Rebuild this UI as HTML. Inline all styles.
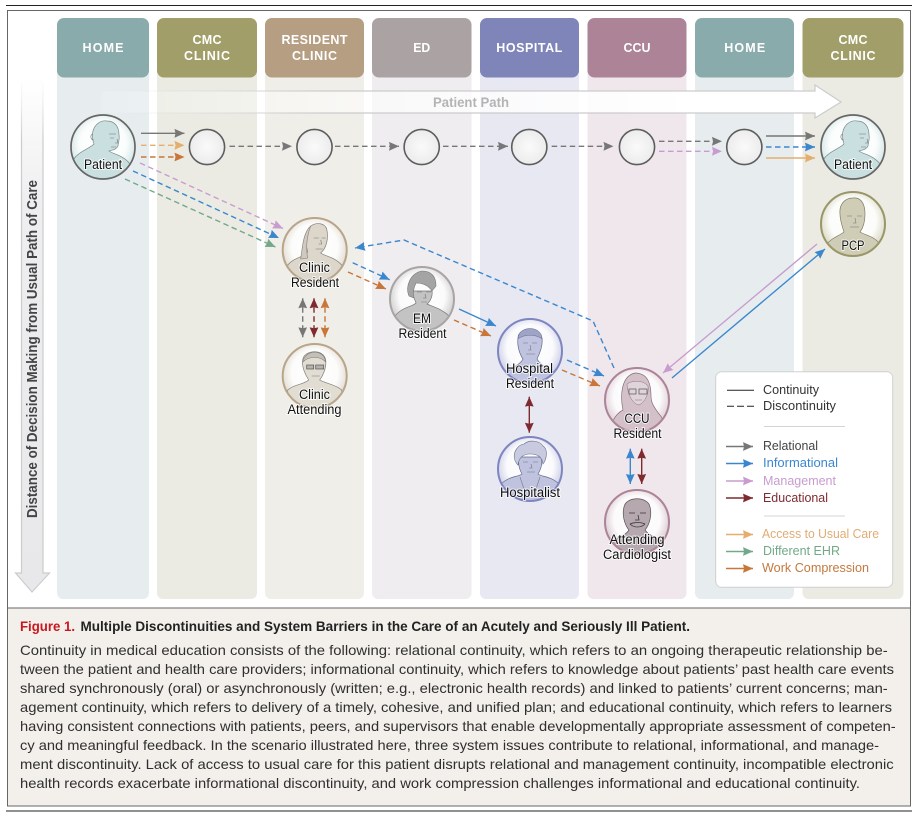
<!DOCTYPE html>
<html><head><meta charset="utf-8"><style>
html,body{margin:0;padding:0;background:#fff;width:915px;height:818px;overflow:hidden}
svg{display:block}
text{font-family:"Liberation Sans",sans-serif}
.h{fill:#fff;font-weight:bold;font-size:12.5px;text-anchor:middle}
.l{fill:#111;font-size:13.5px;text-anchor:middle;stroke:#fff;stroke-opacity:.75;stroke-width:2px;paint-order:stroke}
.c{fill:#2f2f2f;font-size:14px}
.k{font-size:13px}
.a{fill:none;stroke-width:1.4}
.d{stroke-dasharray:5.5 3.5}
.o{fill:none;stroke:#777;stroke-width:.6}
</style></head><body>
<svg width="915" height="818" viewBox="0 0 915 818" xmlns="http://www.w3.org/2000/svg">
<defs>
<clipPath id="c"><circle r="31.5"/></clipPath>
<radialGradient id="w" cx=".5" cy=".45" r=".5"><stop offset="0" stop-color="#fff"/><stop offset=".72" stop-color="#fff" stop-opacity=".92"/><stop offset="1" stop-color="#fff" stop-opacity=".25"/></radialGradient>
<radialGradient id="s"><stop offset="0" stop-color="#fafafa"/><stop offset="1" stop-color="#ececec"/></radialGradient>
<linearGradient id="pp" x1="0" x2="1" y1="0" y2="0"><stop offset="0" stop-color="#fff" stop-opacity=".1"/><stop offset=".45" stop-color="#fff" stop-opacity=".75"/><stop offset=".8" stop-color="#fff"/></linearGradient>
<linearGradient id="pe" x1="0" x2="1" y1="0" y2="0"><stop offset="0" stop-color="#ddd" stop-opacity="0"/><stop offset=".3" stop-color="#ccc"/></linearGradient>
<linearGradient id="vf" x1="0" x2="0" y1="0" y2="1"><stop offset="0" stop-color="#fff"/><stop offset=".25" stop-color="#eeeef0"/><stop offset="1" stop-color="#e8e8ea"/></linearGradient>
<linearGradient id="ve" x1="0" x2="0" y1="0" y2="1"><stop offset="0" stop-color="#ddd" stop-opacity="0"/><stop offset=".12" stop-color="#ccc"/></linearGradient>
<marker id="mg" markerUnits="userSpaceOnUse" markerWidth="11" markerHeight="11" refX="10" refY="5" orient="auto-start-reverse"><path d="M0,.6 L10,5 L0,9.4 L1,5Z" fill="#777"/></marker>
<marker id="mt" markerUnits="userSpaceOnUse" markerWidth="11" markerHeight="11" refX="10" refY="5" orient="auto-start-reverse"><path d="M0,.6 L10,5 L0,9.4 L1,5Z" fill="#e4ae6e"/></marker>
<marker id="mo" markerUnits="userSpaceOnUse" markerWidth="11" markerHeight="11" refX="10" refY="5" orient="auto-start-reverse"><path d="M0,.6 L10,5 L0,9.4 L1,5Z" fill="#c8763a"/></marker>
<marker id="mb" markerUnits="userSpaceOnUse" markerWidth="11" markerHeight="11" refX="10" refY="5" orient="auto-start-reverse"><path d="M0,.6 L10,5 L0,9.4 L1,5Z" fill="#3b87cf"/></marker>
<marker id="mp" markerUnits="userSpaceOnUse" markerWidth="11" markerHeight="11" refX="10" refY="5" orient="auto-start-reverse"><path d="M0,.6 L10,5 L0,9.4 L1,5Z" fill="#c89ccf"/></marker>
<marker id="mn" markerUnits="userSpaceOnUse" markerWidth="11" markerHeight="11" refX="10" refY="5" orient="auto-start-reverse"><path d="M0,.6 L10,5 L0,9.4 L1,5Z" fill="#73a98a"/></marker>
<marker id="mr" markerUnits="userSpaceOnUse" markerWidth="11" markerHeight="11" refX="10" refY="5" orient="auto-start-reverse"><path d="M0,.6 L10,5 L0,9.4 L1,5Z" fill="#7f2a2f"/></marker>
</defs>

<rect width="915" height="818" fill="#fff"/>
<line x1="6" x2="912" y1="5.5" y2="5.5" stroke="#222" stroke-width="1"/>
<line x1="6" x2="912" y1="811" y2="811" stroke="#222" stroke-width="1"/>
<rect x="7.5" y="608" width="903" height="198" fill="#f3f0ec"/>
<rect x="7.5" y="10.5" width="903" height="795.5" fill="none" stroke="#666" stroke-width="1"/>
<line x1="7.5" x2="910.5" y1="608" y2="608" stroke="#666" stroke-width="1"/>

<!-- columns -->
<rect x="57" y="30" width="92" height="569" rx="6" fill="#e7edef"/>
<rect x="157" y="30" width="100" height="569" rx="6" fill="#ebebe3"/>
<rect x="265" y="30" width="99" height="569" rx="6" fill="#f0eee8"/>
<rect x="372" y="30" width="99.5" height="569" rx="6" fill="#efedef"/>
<rect x="480" y="30" width="99" height="569" rx="6" fill="#e7e8f1"/>
<rect x="587.5" y="30" width="99" height="569" rx="6" fill="#f0e7ec"/>
<rect x="695" y="30" width="99" height="569" rx="6" fill="#e7edef"/>
<rect x="802.5" y="30" width="101" height="569" rx="6" fill="#ebebe3"/>
<rect x="57" y="18" width="92" height="59.5" rx="7" fill="#8aabac"/>
<rect x="157" y="18" width="100" height="59.5" rx="7" fill="#a19e69"/>
<rect x="265" y="18" width="99" height="59.5" rx="7" fill="#b59e82"/>
<rect x="372" y="18" width="99.5" height="59.5" rx="7" fill="#aba3a3"/>
<rect x="480" y="18" width="99" height="59.5" rx="7" fill="#7f85b8"/>
<rect x="587.5" y="18" width="99" height="59.5" rx="7" fill="#ad8397"/>
<rect x="695" y="18" width="99" height="59.5" rx="7" fill="#8aabac"/>
<rect x="802.5" y="18" width="101" height="59.5" rx="7" fill="#a19e69"/>
<text class="h" x="103" y="52" textLength="41">HOME</text>
<text class="h" x="207" y="44" textLength="29">CMC</text>
<text class="h" x="207" y="60" textLength="46">CLINIC</text>
<text class="h" x="314.5" y="44" textLength="66">RESIDENT</text>
<text class="h" x="314.5" y="60" textLength="45">CLINIC</text>
<text class="h" x="421.7" y="52" textLength="17" lengthAdjust="spacingAndGlyphs">ED</text>
<text class="h" x="529.3" y="52" textLength="66">HOSPITAL</text>
<text class="h" x="637" y="52" textLength="27" lengthAdjust="spacingAndGlyphs">CCU</text>
<text class="h" x="744.7" y="52" textLength="41">HOME</text>
<text class="h" x="853" y="44" textLength="29">CMC</text>
<text class="h" x="853" y="60" textLength="45">CLINIC</text>

<!-- patient path -->
<path d="M101,91 H815 V85 L841,102 L815,118 V113 H101Z" fill="url(#pp)" stroke="url(#pe)" stroke-width="1.2"/>
<text x="471" y="107" text-anchor="middle" textLength="76" lengthAdjust="spacingAndGlyphs" font-weight="bold" font-size="14" fill="#b4b4b4">Patient Path</text>

<!-- vertical arrow -->
<path d="M21.5,78 H43 V573 H49.5 L32,592 L15.5,573 H21.5Z" fill="url(#vf)" stroke="url(#ve)" stroke-width="1.2"/>
<text transform="translate(37,518) rotate(-90)" textLength="338" lengthAdjust="spacingAndGlyphs" font-weight="bold" font-size="14.5" fill="#444">Distance of Decision Making from Usual Path of Care</text>

<!-- small circles -->
<g fill="url(#s)" stroke="#5d5d5d" stroke-width="1.6">
<circle cx="207" cy="147" r="17.6"/><circle cx="314.5" cy="147" r="17.6"/><circle cx="421.7" cy="147" r="17.6"/><circle cx="529.3" cy="147" r="17.6"/><circle cx="637" cy="147" r="17.6"/><circle cx="744.3" cy="147" r="17.6"/>
</g>

<!-- portraits -->
<g transform="translate(103,147)"><circle r="32" fill="#cfe3e3"/><circle r="32" fill="url(#w)"/><g clip-path="url(#c)"><path d="M-30,13 C-24,4 -14,2 -9,-3 C-11,-8 -11,-12 -10,-16 C-8,-23 -2,-27 4,-26 C12,-26 16,-20 16,-12 C17,-8 15,-4 15,-1 C13,3 9,3 6,4 C12,8 20,8 27,17 L27,36 H-30Z" fill="#c9dfe0" stroke="#7a8a8a" stroke-width=".7"/><path class="o" d="M-10,-13 C-13,-13 -13,-7 -9,-7 M6,-13 H13 M7,-9 H11 M14,-8 L15,-4 L12,-4 M8,0 H13"/></g><circle r="32" fill="none" stroke="#666" stroke-width="1.7"/></g>
<g transform="translate(853,147)"><circle r="32" fill="#cfe3e3"/><circle r="32" fill="url(#w)"/><g clip-path="url(#c)"><path d="M-30,13 C-24,4 -14,2 -9,-3 C-11,-8 -11,-12 -10,-16 C-8,-23 -2,-27 4,-26 C12,-26 16,-20 16,-12 C17,-8 15,-4 15,-1 C13,3 9,3 6,4 C12,8 20,8 27,17 L27,36 H-30Z" fill="#c9dfe0" stroke="#7a8a8a" stroke-width=".7"/><path class="o" d="M-10,-13 C-13,-13 -13,-7 -9,-7 M6,-13 H13 M7,-9 H11 M14,-8 L15,-4 L12,-4 M8,0 H13"/></g><circle r="32" fill="none" stroke="#666" stroke-width="1.7"/></g>
<g transform="translate(853,224)"><circle r="32" fill="#d6d5bf"/><circle r="32" fill="url(#w)"/><g clip-path="url(#c)"><path d="M-28,22 C-22,14 -14,12 -9,8 C-11,2 -13,-4 -13,-10 C-14,-20 -8,-26 0,-26 C8,-27 12,-20 12,-10 C12,-2 10,4 7,8 C14,12 22,12 28,22 V36 H-28Z" fill="#cfcdb6" stroke="#7f7d66" stroke-width=".7"/><path class="o" d="M-6,-8 H-1 M4,-8 H9 M2,-6 L3,-1 L0,-1 M-3,3 H6"/></g><circle r="32" fill="none" stroke="#9a9668" stroke-width="2"/></g>
<g transform="translate(314.7,250)"><circle r="32" fill="#ded8cd"/><circle r="32" fill="url(#w)"/><g clip-path="url(#c)"><path d="M-27,15 C-20,7 -12,8 -7,2 C-10,-8 -8,-18 -4,-24 C2,-28 10,-27 12,-21 C14,-12 12,-2 6,3 C12,7 20,7 27,15 V36 H-27Z" fill="#dcd6cb" stroke="#85807a" stroke-width=".7"/><path d="M-4,-24 C-11,-18 -12,-6 -14,9 L-7,8 C-9,-2 -8,-14 -4,-24Z" fill="#cfc9bf" stroke="#85807a" stroke-width=".6"/><path class="o" d="M-1,-12 H4 M7,-12 H11 M6,-10 L7,-6 L4,-6 M1,-1 H8"/></g><circle r="32" fill="none" stroke="#b9a58a" stroke-width="2"/></g>
<g transform="translate(314.7,376)"><circle r="32" fill="#ded8cd"/><circle r="32" fill="url(#w)"/><g clip-path="url(#c)"><path d="M-27,14 C-20,8 -12,9 -6,4 C-11,-4 -13,-10 -12,-16 C-11,-26 9,-28 11,-16 C12,-8 8,0 5,4 C12,8 20,8 27,14 V36 H-27Z" fill="#e2ddd3" stroke="#85807a" stroke-width=".7"/><path d="M-12,-14 C-10,-26 9,-28 11,-14 C6,-20 -6,-20 -12,-14Z" fill="#c4c0b8" stroke="#85807a" stroke-width=".6"/><rect x="-8" y="-11" width="7" height="4" fill="#888" fill-opacity=".5" stroke="#555" stroke-width=".7"/><rect x="1" y="-11" width="8" height="4" fill="#888" fill-opacity=".5" stroke="#555" stroke-width=".7"/><path class="o" d="M-3,0 H5"/></g><circle r="32" fill="none" stroke="#b9a58a" stroke-width="2"/></g>
<g transform="translate(422,299)"><circle r="32" fill="#c9c7c7"/><circle r="32" fill="url(#w)"/><g clip-path="url(#c)"><path d="M-27,17 C-20,8 -10,8 -6,4 C-7,0 -10,-3 -10,-8 L10,-8 C11,-3 8,3 5,5 C12,8 20,10 27,17 V36 H-27Z" fill="#c4c3c3" stroke="#777" stroke-width=".7"/><path d="M-13,-3 C-17,-12 -12,-26 0,-28 C10,-28 14,-22 14,-13 L10,-8 C6,-14 0,-16 -6,-16 C-9,-10 -9,-5 -8,-1Z" fill="#a5a4a4" stroke="#777" stroke-width=".6"/><path class="o" d="M-5,-7 H0 M4,-7 H9 M3,-5 L4,-1 L1,-1 M-1,3 H5"/></g><circle r="32" fill="none" stroke="#aaa4a4" stroke-width="2"/></g>
<g transform="translate(530,351)"><circle r="32" fill="#c6c9e4"/><circle r="32" fill="url(#w)"/><g clip-path="url(#c)"><path d="M-24,22 C-18,16 -10,14 -7,8 C-11,2 -13,-6 -12,-13 C-12,-24 10,-26 12,-13 C13,-6 10,2 7,8 C10,14 18,16 24,22 V36 H-24Z" fill="#bfc3e0" stroke="#666a88" stroke-width=".7"/><path d="M-12,-12 C-12,-26 12,-26 12,-12 C6,-17 -6,-17 -12,-12Z" fill="#9ea3c8" stroke="#666a88" stroke-width=".5"/><path class="o" d="M-7,-8 H-2 M2,-8 H7 M0,-6 L1,-1 L-2,-1 M-4,3 H5"/></g><circle r="32" fill="none" stroke="#7f85bf" stroke-width="2"/></g>
<g transform="translate(530,469)"><circle r="32" fill="#c6c9e4"/><circle r="32" fill="url(#w)"/><g clip-path="url(#c)"><path d="M-28,14 C-20,7 -12,8 -8,5 C-11,0 -12,-6 -11,-12 L11,-12 C13,-6 11,0 8,5 C12,8 20,7 28,14 V36 H-28Z" fill="#bfc3e0" stroke="#666a88" stroke-width=".7"/><path d="M-12,-4 C-20,-12 -14,-24 -6,-25 C0,-30 10,-28 13,-23 C18,-20 17,-10 13,-5 C12,-12 8,-15 0,-15 C-6,-15 -11,-12 -12,-4Z" fill="#c8cae0" stroke="#666a88" stroke-width=".6"/><path class="o" d="M-7,-7 H-2 M3,-7 H8 M1,-5 L2,-1 L-1,-1 M-3,3 H5 M-10,8 L-6,20 M10,8 L6,20"/></g><circle r="32" fill="none" stroke="#7f85bf" stroke-width="2"/></g>
<g transform="translate(637,400)"><circle r="32" fill="#dccbd3"/><circle r="32" fill="url(#w)"/><g clip-path="url(#c)"><path d="M-14,10 C-17,-4 -16,-24 -2,-27 C12,-27 14,-14 14,-4 C14,4 18,8 22,14 C26,18 27,22 28,36 H-28 C-27,24 -22,14 -14,10Z" fill="#d3c0c9" stroke="#846f79" stroke-width=".7"/><path d="M-10,-16 C-4,-20 6,-20 11,-14 C12,-6 8,2 2,5 C-4,4 -9,-4 -10,-16Z" fill="#e0d3d9" stroke="#846f79" stroke-width=".5"/><rect x="-8" y="-11" width="7" height="5" fill="none" stroke="#555" stroke-width=".7"/><rect x="2" y="-11" width="8" height="5" fill="none" stroke="#555" stroke-width=".7"/><path class="o" d="M-2,0 H5"/></g><circle r="32" fill="none" stroke="#ad8397" stroke-width="2"/></g>
<g transform="translate(637,522)"><circle r="32" fill="#d6c4cd"/><circle r="32" fill="url(#w)"/><g clip-path="url(#c)"><path d="M-26,20 C-18,14 -12,14 -8,8 C-13,2 -15,-8 -13,-15 C-11,-26 11,-26 13,-15 C15,-8 13,2 8,8 C12,14 18,14 26,20 V36 H-26Z" fill="#b5a8ae" stroke="#5d5257" stroke-width=".7"/><path d="M-8,-9 H-2 M3,-9 H9 M1,-7 L2,-2 L-2,-2 M-7,2 C-3,6 4,6 8,2 M-7,2 C-3,0 4,0 8,2" fill="none" stroke="#3d3539" stroke-width=".8"/></g><circle r="32" fill="none" stroke="#ad8397" stroke-width="2"/></g>

<!-- labels -->
<text class="l" x="103" y="169" textLength="38" lengthAdjust="spacingAndGlyphs">Patient</text>
<text class="l" x="853" y="169" textLength="38" lengthAdjust="spacingAndGlyphs">Patient</text>
<text class="l" x="853" y="250" textLength="23" lengthAdjust="spacingAndGlyphs">PCP</text>
<text class="l" x="314.5" y="272" textLength="31" lengthAdjust="spacingAndGlyphs">Clinic</text>
<text class="l" x="315" y="287" textLength="48" lengthAdjust="spacingAndGlyphs">Resident</text>
<text class="l" x="314.5" y="399" textLength="31" lengthAdjust="spacingAndGlyphs">Clinic</text>
<text class="l" x="314.5" y="414" textLength="54" lengthAdjust="spacingAndGlyphs">Attending</text>
<text class="l" x="422" y="323" textLength="18" lengthAdjust="spacingAndGlyphs">EM</text>
<text class="l" x="422.5" y="338" textLength="48" lengthAdjust="spacingAndGlyphs">Resident</text>
<text class="l" x="529.5" y="373" textLength="47" lengthAdjust="spacingAndGlyphs">Hospital</text>
<text class="l" x="530" y="388" textLength="48" lengthAdjust="spacingAndGlyphs">Resident</text>
<text class="l" x="530" y="497" textLength="60" lengthAdjust="spacingAndGlyphs">Hospitalist</text>
<text class="l" x="637" y="423" textLength="25" lengthAdjust="spacingAndGlyphs">CCU</text>
<text class="l" x="637.5" y="438" textLength="48" lengthAdjust="spacingAndGlyphs">Resident</text>
<text class="l" x="637" y="544" textLength="55" lengthAdjust="spacingAndGlyphs">Attending</text>
<text class="l" x="637" y="559" textLength="68" lengthAdjust="spacingAndGlyphs">Cardiologist</text>

<!-- connectors -->
<line class="a" x1="141" y1="133.3" x2="184.5" y2="133.3" stroke="#777" marker-end="url(#mg)"/>
<line class="a d" x1="141" y1="145.3" x2="184.5" y2="145.3" stroke="#e4ae6e" marker-end="url(#mt)"/>
<line class="a d" x1="141" y1="157" x2="184.5" y2="157" stroke="#c8763a" marker-end="url(#mo)"/>
<line class="a d" x1="229.5" y1="146.3" x2="292" y2="146.3" stroke="#777" marker-end="url(#mg)"/>
<line class="a d" x1="335" y1="146.3" x2="399" y2="146.3" stroke="#777" marker-end="url(#mg)"/>
<line class="a d" x1="443" y1="146.3" x2="508" y2="146.3" stroke="#777" marker-end="url(#mg)"/>
<line class="a d" x1="551.7" y1="146.3" x2="613.5" y2="146.3" stroke="#777" marker-end="url(#mg)"/>
<line class="a d" x1="659" y1="141.3" x2="722" y2="141.3" stroke="#777" marker-end="url(#mg)"/>
<line class="a d" x1="659" y1="151.3" x2="722" y2="151.3" stroke="#c89ccf" marker-end="url(#mp)"/>
<line class="a" x1="766" y1="136" x2="815" y2="136" stroke="#777" marker-end="url(#mg)"/>
<line class="a d" x1="766" y1="147" x2="815" y2="147" stroke="#3b87cf" marker-end="url(#mb)"/>
<line class="a" x1="766" y1="158" x2="815" y2="158" stroke="#e4ae6e" marker-end="url(#mt)"/>
<line class="a d" x1="140" y1="163" x2="283" y2="228.5" stroke="#c89ccf" marker-end="url(#mp)"/>
<line class="a d" x1="133" y1="171" x2="279" y2="238" stroke="#3b87cf" marker-end="url(#mb)"/>
<line class="a d" x1="125" y1="179" x2="275.5" y2="247" stroke="#73a98a" marker-end="url(#mn)"/>
<polyline class="a d" points="614,368 593,321 404,240 355,248" stroke="#3b87cf" marker-end="url(#mb)"/>
<line class="a d" x1="352.7" y1="262.7" x2="389.7" y2="279.7" stroke="#3b87cf" marker-end="url(#mb)"/>
<line class="a d" x1="348" y1="272" x2="386" y2="289" stroke="#c8763a" marker-end="url(#mo)"/>
<line class="a" x1="459" y1="309" x2="496" y2="326" stroke="#3b87cf" marker-end="url(#mb)"/>
<line class="a d" x1="454" y1="320" x2="491" y2="336" stroke="#c8763a" marker-end="url(#mo)"/>
<line class="a d" x1="567" y1="360" x2="604" y2="376" stroke="#3b87cf" marker-end="url(#mb)"/>
<line class="a d" x1="562" y1="370" x2="600" y2="386" stroke="#c8763a" marker-end="url(#mo)"/>
<line class="a" x1="672" y1="378" x2="825" y2="249" stroke="#3b87cf" marker-end="url(#mb)"/>
<line class="a" x1="817" y1="244" x2="663" y2="373" stroke="#c89ccf" marker-end="url(#mp)"/>
<line class="a d" x1="302.7" y1="298.3" x2="302.7" y2="337.3" stroke="#777" marker-start="url(#mg)" marker-end="url(#mg)"/>
<line class="a d" x1="314" y1="298.3" x2="314" y2="337.3" stroke="#7f2a2f" marker-start="url(#mr)" marker-end="url(#mr)"/>
<line class="a d" x1="325" y1="298.3" x2="325" y2="337.3" stroke="#c8763a" marker-start="url(#mo)" marker-end="url(#mo)"/>
<line class="a" x1="529.3" y1="396.7" x2="529.3" y2="432.7" stroke="#7f2a2f" marker-start="url(#mr)" marker-end="url(#mr)"/>
<line class="a" x1="630.3" y1="448.7" x2="630.3" y2="484" stroke="#3b87cf" marker-start="url(#mb)" marker-end="url(#mb)"/>
<line class="a" x1="641.7" y1="448.7" x2="641.7" y2="484" stroke="#7f2a2f" marker-start="url(#mr)" marker-end="url(#mr)"/>

<!-- legend -->
<rect x="715.7" y="371.7" width="177" height="215.6" rx="6" fill="#fff" stroke="#d0d0d0" stroke-width="1"/>
<line x1="727" x2="754" y1="390.3" y2="390.3" stroke="#222" stroke-width="1"/>
<line x1="727" x2="754" y1="406.3" y2="406.3" stroke="#222" stroke-width="1" stroke-dasharray="7 3"/>
<line x1="764" x2="845" y1="426.5" y2="426.5" stroke="#d4d4d4"/>
<line x1="764" x2="845" y1="516" y2="516" stroke="#d4d4d4"/>
<line class="a" x1="726" x2="753" y1="446.5" y2="446.5" stroke="#777" marker-end="url(#mg)"/>
<line class="a" x1="726" x2="753" y1="463.5" y2="463.5" stroke="#3b87cf" marker-end="url(#mb)"/>
<line class="a" x1="726" x2="753" y1="481" y2="481" stroke="#c89ccf" marker-end="url(#mp)"/>
<line class="a" x1="726" x2="753" y1="498" y2="498" stroke="#7f2a2f" marker-end="url(#mr)"/>
<line class="a" x1="726" x2="753" y1="534.5" y2="534.5" stroke="#e4ae6e" marker-end="url(#mt)"/>
<line class="a" x1="726" x2="753" y1="551.5" y2="551.5" stroke="#73a98a" marker-end="url(#mn)"/>
<line class="a" x1="726" x2="753" y1="568.5" y2="568.5" stroke="#c8763a" marker-end="url(#mo)"/>
<text class="k" x="763" y="394" textLength="56" lengthAdjust="spacingAndGlyphs" fill="#333">Continuity</text>
<text class="k" x="763" y="410" textLength="73" lengthAdjust="spacingAndGlyphs" fill="#333">Discontinuity</text>
<text class="k" x="763" y="450" textLength="55" lengthAdjust="spacingAndGlyphs" fill="#444">Relational</text>
<text class="k" x="763" y="467" textLength="75" lengthAdjust="spacingAndGlyphs" fill="#3b87cf">Informational</text>
<text class="k" x="763" y="485" textLength="73" lengthAdjust="spacingAndGlyphs" fill="#c89ccf">Management</text>
<text class="k" x="763" y="502" textLength="65" lengthAdjust="spacingAndGlyphs" fill="#7f2a2f">Educational</text>
<text class="k" x="762" y="538" textLength="117" lengthAdjust="spacingAndGlyphs" fill="#e0ac74">Access to Usual Care</text>
<text class="k" x="763" y="555" textLength="77" lengthAdjust="spacingAndGlyphs" fill="#73a98a">Different EHR</text>
<text class="k" x="762" y="572" textLength="107" lengthAdjust="spacingAndGlyphs" fill="#c4793e">Work Compression</text>

<!-- caption -->
<text x="20" y="631" textLength="55" lengthAdjust="spacingAndGlyphs" font-weight="bold" font-size="14" fill="#c8171e">Figure 1.</text>
<text x="80.5" y="631" textLength="609.5" lengthAdjust="spacingAndGlyphs" font-weight="bold" font-size="14" fill="#222">Multiple Discontinuities and System Barriers in the Care of an Acutely and Seriously Ill Patient.</text>
<text class="c" x="20" y="655" textLength="867.7" lengthAdjust="spacingAndGlyphs">Continuity in medical education consists of the following: relational continuity, which refers to an ongoing therapeutic relationship be-</text>
<text class="c" x="20" y="674" textLength="874" lengthAdjust="spacingAndGlyphs">tween the patient and health care providers; informational continuity, which refers to knowledge about patients’ past health care events</text>
<text class="c" x="20" y="693" textLength="867.7" lengthAdjust="spacingAndGlyphs">shared synchronously (oral) or asynchronously (written; e.g., electronic health records) and linked to patients’ current concerns; man-</text>
<text class="c" x="20" y="712" textLength="872" lengthAdjust="spacingAndGlyphs">agement continuity, which refers to delivery of a timely, cohesive, and unified plan; and educational continuity, which refers to learners</text>
<text class="c" x="20" y="731" textLength="875.7" lengthAdjust="spacingAndGlyphs">having consistent connections with patients, peers, and supervisors that enable developmentally appropriate assessment of competen-</text>
<text class="c" x="20" y="750" textLength="859" lengthAdjust="spacingAndGlyphs">cy and meaningful feedback. In the scenario illustrated here, three system issues contribute to relational, informational, and manage-</text>
<text class="c" x="20" y="769" textLength="873.7" lengthAdjust="spacingAndGlyphs">ment discontinuity. Lack of access to usual care for this patient disrupts relational and management continuity, incompatible electronic</text>
<text class="c" x="20" y="788" textLength="840" lengthAdjust="spacingAndGlyphs">health records exacerbate informational discontinuity, and work compression challenges informational and educational continuity.</text>
</svg>
</body></html>
